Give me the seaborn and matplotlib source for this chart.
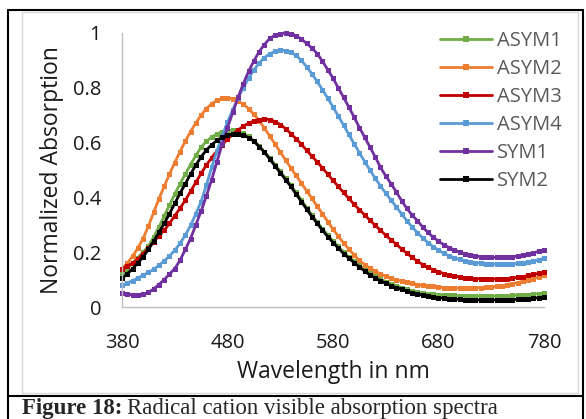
import numpy as np
import pandas as pd
import matplotlib
matplotlib.use("Agg")
import matplotlib.pyplot as plt
from matplotlib.lines import Line2D
from matplotlib.ticker import FuncFormatter
import seaborn as sns

# ---------------- data ----------------
wavelength = list(range(380, 781, 5))

asym1 = [0.125, 0.140, 0.160, 0.180, 0.200, 0.222, 0.255, 0.292, 0.332, 0.372,
         0.412, 0.450, 0.485, 0.520, 0.553, 0.583, 0.605, 0.620, 0.632, 0.640,
         0.644, 0.645, 0.642, 0.634, 0.623, 0.607, 0.588, 0.567, 0.545, 0.520,
         0.495, 0.470, 0.445, 0.418, 0.391, 0.363, 0.336, 0.310, 0.286, 0.263,
         0.241, 0.221, 0.201, 0.184, 0.168, 0.152, 0.137, 0.123, 0.112, 0.102,
         0.093, 0.085, 0.078, 0.071, 0.065, 0.060, 0.056, 0.052, 0.049, 0.047,
         0.045, 0.044, 0.043, 0.042, 0.041, 0.040, 0.040, 0.040, 0.040, 0.040,
         0.040, 0.040, 0.041, 0.041, 0.042, 0.043, 0.044, 0.045, 0.047, 0.049,
         0.051]

asym2 = [0.140, 0.160, 0.185, 0.215, 0.250, 0.295, 0.345, 0.395, 0.440, 0.485,
         0.527, 0.567, 0.605, 0.640, 0.672, 0.700, 0.724, 0.742, 0.754, 0.761,
         0.763, 0.760, 0.752, 0.740, 0.724, 0.703, 0.680, 0.653, 0.624, 0.595,
         0.566, 0.537, 0.508, 0.480, 0.452, 0.424, 0.396, 0.368, 0.340, 0.312,
         0.284, 0.258, 0.234, 0.211, 0.190, 0.170, 0.155, 0.142, 0.131, 0.121,
         0.112, 0.105, 0.099, 0.094, 0.090, 0.086, 0.082, 0.079, 0.077, 0.075,
         0.073, 0.071, 0.070, 0.069, 0.069, 0.069, 0.069, 0.070, 0.071, 0.072,
         0.073, 0.075, 0.078, 0.081, 0.085, 0.089, 0.094, 0.099, 0.104, 0.110,
         0.116]

asym3 = [0.140, 0.150, 0.160, 0.175, 0.195, 0.215, 0.238, 0.260, 0.280, 0.305,
         0.333, 0.360, 0.390, 0.422, 0.455, 0.488, 0.518, 0.545, 0.570, 0.592,
         0.612, 0.630, 0.646, 0.660, 0.671, 0.679, 0.684, 0.686, 0.684, 0.677,
         0.666, 0.651, 0.633, 0.614, 0.594, 0.572, 0.550, 0.530, 0.507, 0.485,
         0.462, 0.440, 0.418, 0.396, 0.375, 0.355, 0.336, 0.317, 0.298, 0.280,
         0.262, 0.245, 0.229, 0.212, 0.196, 0.181, 0.167, 0.155, 0.145, 0.136,
         0.129, 0.122, 0.117, 0.113, 0.110, 0.107, 0.105, 0.104, 0.103, 0.102,
         0.102, 0.102, 0.103, 0.104, 0.106, 0.108, 0.111, 0.115, 0.119, 0.123,
         0.128]

asym4 = [0.080, 0.088, 0.096, 0.106, 0.116, 0.126, 0.138, 0.152, 0.168, 0.186,
         0.207, 0.232, 0.262, 0.298, 0.340, 0.385, 0.445, 0.510, 0.570, 0.625,
         0.675, 0.720, 0.762, 0.800, 0.835, 0.865, 0.890, 0.910, 0.924, 0.933,
         0.937, 0.936, 0.930, 0.918, 0.900, 0.877, 0.851, 0.823, 0.793, 0.762,
         0.730, 0.697, 0.664, 0.630, 0.596, 0.563, 0.531, 0.500, 0.470, 0.442,
         0.415, 0.390, 0.365, 0.340, 0.315, 0.292, 0.271, 0.252, 0.235, 0.220,
         0.207, 0.196, 0.187, 0.180, 0.174, 0.169, 0.165, 0.162, 0.160, 0.158,
         0.157, 0.157, 0.157, 0.157, 0.158, 0.159, 0.161, 0.163, 0.167, 0.172,
         0.178]

sym1 = [0.050, 0.046, 0.045, 0.045, 0.047, 0.053, 0.066, 0.082, 0.100, 0.120,
        0.140, 0.170, 0.210, 0.250, 0.300, 0.350, 0.405, 0.465, 0.530, 0.595,
        0.655, 0.710, 0.765, 0.815, 0.860, 0.898, 0.932, 0.958, 0.980, 0.992,
        0.998, 1.000, 0.998, 0.990, 0.978, 0.962, 0.945, 0.925, 0.897, 0.866,
        0.835, 0.800, 0.765, 0.730, 0.693, 0.655, 0.620, 0.584, 0.548, 0.510,
        0.478, 0.450, 0.420, 0.388, 0.360, 0.335, 0.315, 0.292, 0.272, 0.255,
        0.240, 0.227, 0.217, 0.208, 0.200, 0.194, 0.190, 0.186, 0.184, 0.182,
        0.181, 0.181, 0.181, 0.182, 0.183, 0.186, 0.189, 0.194, 0.198, 0.203,
        0.207]

sym2 = [0.105, 0.120, 0.140, 0.160, 0.183, 0.210, 0.240, 0.272, 0.305, 0.340,
        0.378, 0.415, 0.450, 0.485, 0.518, 0.548, 0.573, 0.592, 0.608, 0.620,
        0.628, 0.632, 0.632, 0.627, 0.618, 0.605, 0.585, 0.565, 0.540, 0.515,
        0.490, 0.465, 0.440, 0.412, 0.385, 0.357, 0.330, 0.305, 0.280, 0.257,
        0.235, 0.215, 0.195, 0.178, 0.162, 0.146, 0.131, 0.117, 0.106, 0.096,
        0.086, 0.078, 0.071, 0.064, 0.057, 0.052, 0.047, 0.043, 0.039, 0.036,
        0.034, 0.032, 0.030, 0.029, 0.028, 0.027, 0.027, 0.026, 0.026, 0.026,
        0.026, 0.026, 0.026, 0.027, 0.027, 0.028, 0.029, 0.030, 0.032, 0.034,
        0.036]

series_names = ["ASYM1", "ASYM2", "ASYM3", "ASYM4", "SYM1", "SYM2"]
series_values = [asym1, asym2, asym3, asym4, sym1, sym2]
series_colors = ["#70AD47", "#ED7D31", "#C00000", "#5B9BD5", "#7030A0", "#000000"]

x_ticks = [380, 480, 580, 680, 780]
y_ticks = [0, 0.2, 0.4, 0.6, 0.8, 1]

df = pd.DataFrame({
    "Wavelength": np.tile(wavelength, len(series_names)),
    "Absorption": np.concatenate(series_values),
    "Series": np.repeat(series_names, len(wavelength)),
})

# ---------------- style ----------------
sns.set_style("white")
plt.rcParams["font.family"] = ["Open Sans", "DejaVu Sans"]

W, H = 586, 419
fig = plt.figure(figsize=(W / 100, H / 100), dpi=100)

# frame decorations (pixel coords overlay)
deco = fig.add_axes([0, 0, 1, 1], zorder=0)
deco.set_xlim(0, W)
deco.set_ylim(H, 0)
deco.axis("off")
deco.plot([22, 578, 578, 22, 22], [12, 12, 393, 393, 12], color="#d9d9d9", lw=1.0)
deco.plot([7.5, 7.5], [10, H], color="black", lw=1.5)
deco.plot([583, 583], [10, H], color="black", lw=1.5)
deco.plot([7.5, 583], [10, 10], color="black", lw=1.5)
deco.plot([7.5, 583], [395.5, 395.5], color="black", lw=1.5)

ax = fig.add_axes([122 / W, 1 - 307 / H, (544 - 122) / W, (307 - 33) / H], zorder=1)
ax.patch.set_alpha(0)

sns.lineplot(data=df, x="Wavelength", y="Absorption", hue="Series",
             palette=dict(zip(series_names, series_colors)), hue_order=series_names,
             marker="s", markersize=3.6, markeredgewidth=0, linewidth=2.0,
             legend=False, ax=ax, clip_on=False)

ax.set_xlim(380, 780)
ax.set_ylim(0, 1)
ax.set_xticks(x_ticks)
ax.set_yticks(y_ticks)
ax.yaxis.set_major_formatter(FuncFormatter(lambda v, p: f"{v:g}"))

for s in ["top", "right"]:
    ax.spines[s].set_visible(False)
for s in ["left", "bottom"]:
    ax.spines[s].set_color("#bfbfbf")
    ax.spines[s].set_linewidth(1.0)

ax.tick_params(axis="both", direction="out", length=6, width=1.0, color="#bfbfbf",
               labelsize=14.5, labelcolor="#1a1a1a")
ax.tick_params(axis="y", pad=9)
ax.tick_params(axis="x", pad=13)

ax.set_xlabel("Wavelength in nm", fontsize=16.5, color="#1a1a1a", labelpad=5)
ax.set_ylabel("Normalized Absorption", fontsize=16.5, color="#1a1a1a", labelpad=6)

handles = [Line2D([0], [0], color=c, lw=2.0, marker="s", markersize=4, markeredgewidth=0)
           for c in series_colors]
leg = ax.legend(handles, series_names, loc="upper left",
                bbox_to_anchor=(440 / W, 1 - 31 / H), bbox_transform=fig.transFigure,
                frameon=False, fontsize=14.5, handlelength=2.6, handletextpad=0.25,
                labelspacing=0.4, borderpad=0, borderaxespad=0)
for t in leg.get_texts():
    t.set_color("#595959")

# caption
cap_y = 1 - 413.5 / H
t1 = fig.text(22 / W, cap_y, "Figure 18:", fontsize=16.5, fontweight="bold",
              family="Liberation Serif", va="baseline", ha="left")
fig.canvas.draw()
bb = t1.get_window_extent()
fig.text((bb.x1 + 5) / W, cap_y, "Radical cation visible absorption spectra",
         fontsize=16.5, family="Liberation Serif", va="baseline", ha="left")

fig.savefig("out.png", dpi=100)
